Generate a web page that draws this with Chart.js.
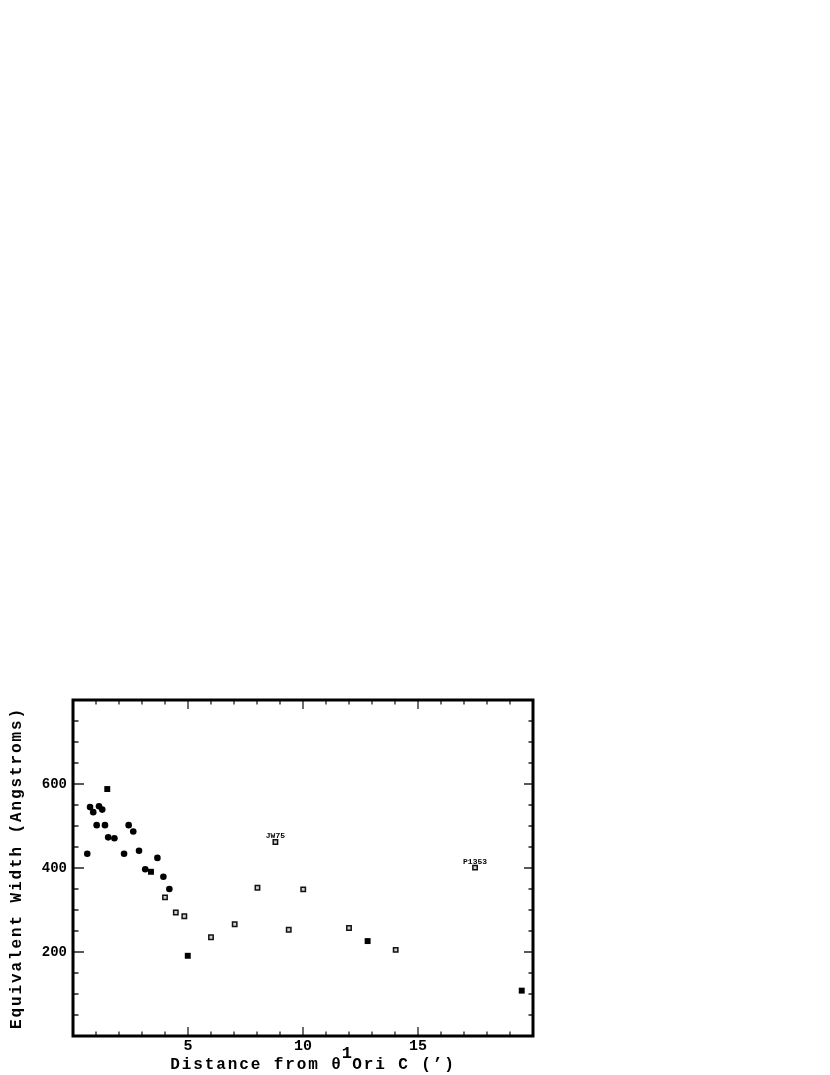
<!DOCTYPE html>
<html>
<head>
<meta charset="utf-8">
<script src="https://cdn.jsdelivr.net/npm/chart.js@4.4.0/dist/chart.umd.min.js"></script>
<style>
html,body{margin:0;padding:0;background:#fff;}
canvas{display:block;}
</style>
</head>
<body>
<canvas id="c" width="830" height="1075"></canvas>
<script>
// ---- data ----
const circleX = [0.62,0.74,0.88,1.03,1.13,1.27,1.39,1.53,1.80,2.22,2.42,2.62,2.87,3.14,3.67,3.93,4.19];
const circleY = [434,545,533,502,547,539,502,473,471,434,502,487,441,397,424,379,350];
const filledX = [1.49,3.39,4.99,12.81,19.51];
const filledY = [588,391,191,226,108];
const openX = [4.00,4.47,4.84,6.00,7.03,8.02,8.80,9.38,10.01,12.00,14.03,17.48];
const openY = [330,294,285,235,266,353,462,253,349,257,205,401];
const pointNames = ['JW75','P1353'];
const pointNameIdx = [6,11];
const xTickLabels = [5,10,15];
const yTickLabels = [200,400,600];
const xRange = [0,20];
const yRange = [0,800];
const xTitleParts = ['Distance from \u03B8','1','Ori C (\u2019)'];
const yTitle = 'Equivalent Width (Angstroms)';

function pts(xs, ys){ return xs.map((x,i)=>({x:x,y:ys[i]})); }

const MONO = '"Liberation Mono","DejaVu Sans Mono",monospace';

const framePlugin = {
  id:'frame',
  afterDraw(chart){
    const ctx = chart.ctx, a = chart.chartArea;
    const xs = chart.scales.x, ys = chart.scales.y;
    ctx.save();
    // ticks (inward, all four sides)
    ctx.strokeStyle = '#222';
    ctx.lineWidth = 1.3;
    for(let v = xRange[0]; v <= xRange[1]; v += 1){
      const px = xs.getPixelForValue(v);
      const len = (v % 5 === 0) ? 9 : 4.5;
      ctx.beginPath();
      ctx.moveTo(px, a.bottom); ctx.lineTo(px, a.bottom - len);
      ctx.moveTo(px, a.top); ctx.lineTo(px, a.top + len);
      ctx.stroke();
    }
    for(let v = yRange[0]; v <= yRange[1]; v += 50){
      const py = ys.getPixelForValue(v);
      const major = (v % 200 === 0);
      ctx.beginPath();
      ctx.moveTo(a.left, py); ctx.lineTo(a.left + (major ? 11 : 5.5), py);
      ctx.moveTo(a.right, py); ctx.lineTo(a.right - (major ? 9 : 4.5), py);
      ctx.stroke();
    }
    // frame
    ctx.strokeStyle = '#000';
    ctx.lineWidth = 3;
    ctx.strokeRect(a.left, a.top, a.right - a.left, a.bottom - a.top);

    // point name labels
    ctx.fillStyle = '#000';
    ctx.font = 'bold 8px ' + MONO;
    ctx.textAlign = 'center';
    ctx.textBaseline = 'alphabetic';
    pointNames.forEach((n,i)=>{
      const k = pointNameIdx[i];
      const px = xs.getPixelForValue(openX[k]);
      const py = ys.getPixelForValue(openY[k]);
      ctx.fillText(n, px, py - 4);
    });

    // axis titles
    ctx.font = 'bold 16px ' + MONO;
    ctx.letterSpacing = '1.9px';
    ctx.textBaseline = 'alphabetic';
    // x title with superscript
    const w0 = ctx.measureText(xTitleParts[0]).width;
    const w1 = ctx.measureText(xTitleParts[1]).width;
    const w2 = ctx.measureText(xTitleParts[2]).width;
    const total = w0 + w1 + w2;
    let sx = (a.left + a.right)/2 + 11 - total/2;
    const base = 1069;
    ctx.textAlign = 'left';
    ctx.fillText(xTitleParts[0], sx, base);
    ctx.font = 'bold 17px ' + MONO;
    ctx.fillText(xTitleParts[1], sx + w0 - 1, base - 11);
    ctx.font = 'bold 16px ' + MONO;
    ctx.fillText(xTitleParts[2], sx + w0 + w1 - 2, base);
    // y title
    ctx.translate(21, (a.top + a.bottom)/2);
    ctx.rotate(-Math.PI/2);
    ctx.textAlign = 'center';
    ctx.fillText(yTitle, 0, 0);
    ctx.restore();
  }
};

new Chart(document.getElementById('c'), {
  type:'scatter',
  data:{
    datasets:[
      {data:pts(circleX,circleY), pointStyle:'circle', pointRadius:3.3,
       backgroundColor:'#000', borderColor:'#000', borderWidth:0},
      {data:pts(filledX,filledY), pointStyle:'rect', pointRadius:4.2,
       backgroundColor:'#000', borderColor:'#000', borderWidth:0},
      {data:pts(openX,openY), pointStyle:'rect', pointRadius:3.1,
       backgroundColor:'#d0d0d0', borderColor:'#111', borderWidth:1.5}
    ]
  },
  plugins:[framePlugin],
  options:{
    responsive:false,
    animation:false,
    devicePixelRatio:1,
    layout:{padding:{top:700,left:0,right:297,bottom:0}},
    plugins:{legend:{display:false},tooltip:{enabled:false}},
    scales:{
      x:{
        type:'linear', min:xRange[0], max:xRange[1],
        afterFit(s){ s.height = 39; },
        grid:{display:false, drawTicks:false}, border:{display:false},
        ticks:{stepSize:1, autoSkip:false, maxRotation:0, padding:1,
          color:'#000', font:{family:MONO, weight:'bold', size:15},
          callback:(v)=> xTickLabels.includes(v) ? String(v) : ''}
      },
      y:{
        type:'linear', min:yRange[0], max:yRange[1],
        afterFit(s){ s.width = 73; },
        grid:{display:false, drawTicks:false}, border:{display:false},
        ticks:{stepSize:50, autoSkip:false, padding:6,
          color:'#000', font:{family:MONO, weight:'bold', size:14},
          callback:(v)=> yTickLabels.includes(v) ? String(v) : ''}
      }
    }
  }
});
</script>
</body>
</html>
